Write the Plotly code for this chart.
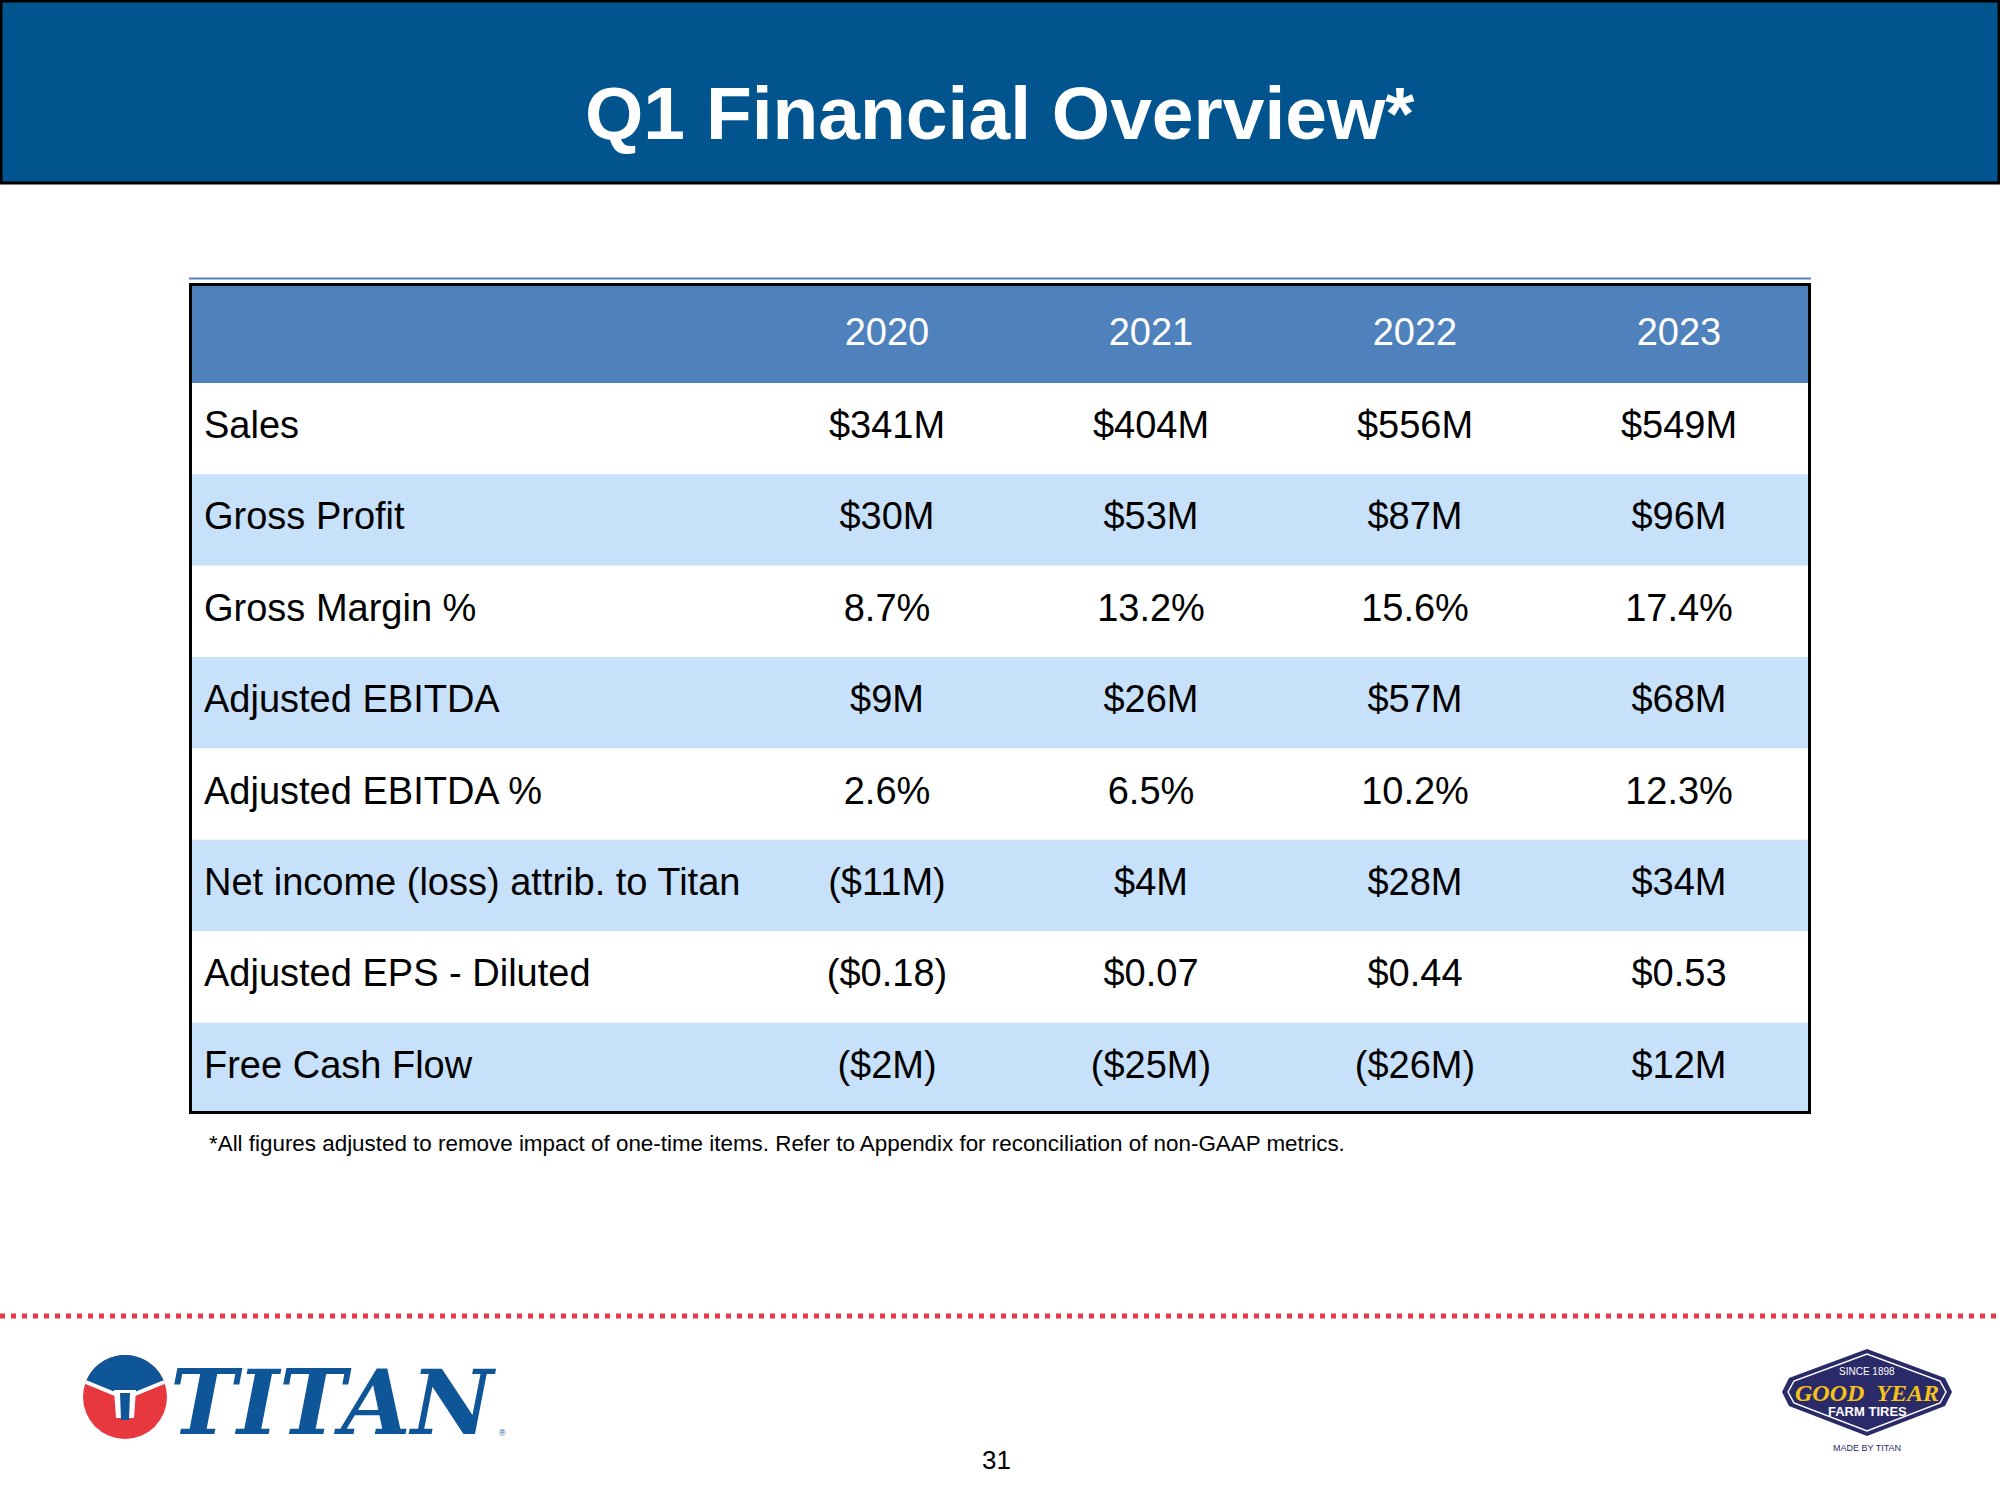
import math
import plotly.graph_objects as go

# ---------------- data ----------------
years = ["2020", "2021", "2022", "2023"]
metrics = [
    "Sales",
    "Gross Profit",
    "Gross Margin %",
    "Adjusted EBITDA",
    "Adjusted EBITDA %",
    "Net income (loss) attrib. to Titan",
    "Adjusted EPS - Diluted",
    "Free Cash Flow",
]
v2020 = ["$341M", "$30M", "8.7%", "$9M", "2.6%", "($11M)", "($0.18)", "($2M)"]
v2021 = ["$404M", "$53M", "13.2%", "$26M", "6.5%", "$4M", "$0.07", "($25M)"]
v2022 = ["$556M", "$87M", "15.6%", "$57M", "10.2%", "$28M", "$0.44", "($26M)"]
v2023 = ["$549M", "$96M", "17.4%", "$68M", "12.3%", "$34M", "$0.53", "$12M"]
values_by_year = [v2020, v2021, v2022, v2023]

title_text = "Q1 Financial Overview*"
footnote_text = ("*All figures adjusted to remove impact of one-time items. "
                 "Refer to Appendix for reconciliation of non-GAAP metrics.")
page_number = "31"

# ---------------- style ----------------
W, H = 2000, 1500
FONT = "Liberation Sans, Arial, Helvetica, sans-serif"
BANNER = "#02548E"
HEAD = "#4F81BD"
LIGHT = "#C8E1FA"
RED = "#E8394A"
TITAN_BLUE = "#0E5697"
TITAN_RED = "#E8383F"
GY_NAVY = "#2B2A68"
GY_YELLOW = "#F5C21C"

# table geometry (page pixels)
T_LEFT, T_RIGHT = 189, 1811
T_TOP, T_BOTTOM = 283, 1114
LABEL_W, COL_W = 566, 264
HEADER_H, ROW_H = 100, 91.5

label_units = LABEL_W / COL_W
header_units = HEADER_H / ROW_H
x_min = -0.5 - label_units
x_max = len(years) - 0.5
y_top = -0.5 - header_units
y_bot = len(metrics) - 0.5
header_y = -0.5 - header_units / 2

fig = go.Figure()

# row bands (header + alternating rows)
band_y = [header_y] + list(range(len(metrics)))
band_w = [header_units] + [1.0] * len(metrics)
band_c = [HEAD] + [("white" if i % 2 == 0 else LIGHT) for i in range(len(metrics))]
fig.add_trace(go.Bar(
    orientation="h", y=band_y, x=[x_max - x_min] * len(band_y), base=x_min,
    width=band_w, marker=dict(color=band_c, line=dict(width=0)),
    hoverinfo="skip", showlegend=False, xaxis="x", yaxis="y",
))

# header text
fig.add_trace(go.Scatter(
    x=list(range(len(years))), y=[header_y + 3 / ROW_H] * len(years), text=years,
    mode="text", textposition="middle center",
    textfont=dict(family=FONT, size=38, color="white"),
    hoverinfo="skip", showlegend=False, xaxis="x", yaxis="y",
))

# row labels
fig.add_trace(go.Scatter(
    x=[x_min + 15 / COL_W] * len(metrics), y=list(range(len(metrics))), text=metrics,
    mode="text", textposition="middle right",
    textfont=dict(family=FONT, size=38, color="black"),
    hoverinfo="skip", showlegend=False, xaxis="x", yaxis="y",
))

# values
for j, vals in enumerate(values_by_year):
    fig.add_trace(go.Scatter(
        x=[j] * len(vals), y=list(range(len(vals))), text=vals,
        mode="text", textposition="middle center",
        textfont=dict(family=FONT, size=38, color="black"),
        hoverinfo="skip", showlegend=False, xaxis="x", yaxis="y",
    ))

shapes = []
# table border
shapes.append(dict(type="line", xref="x2", yref="y2", x0=T_LEFT, x1=T_RIGHT, y0=278.5, y1=278.5,
                   line=dict(color=HEAD, width=2), layer="above"))
shapes.append(dict(type="rect", xref="x", yref="y", x0=x_min, x1=x_max, y0=y_top, y1=y_bot,
                   line=dict(color="black", width=6), layer="above"))

# banner
shapes.append(dict(type="rect", xref="x2", yref="y2", x0=1, x1=W - 1, y0=1, y1=183,
                   fillcolor=BANNER, line=dict(color="black", width=3), layer="below"))

# dotted separator
shapes.append(dict(type="line", xref="x2", yref="y2", x0=0, x1=W, y0=1316, y1=1316,
                   line=dict(color=RED, width=5, dash="5px,6px"), layer="above"))

# ---- Titan logo ----
cx, cy, rx, ry = 125, 1397, 42, 42
shapes.append(dict(type="circle", xref="x2", yref="y2", x0=cx - rx, x1=cx + rx,
                   y0=cy - ry, y1=cy + ry, fillcolor=TITAN_RED, line=dict(width=0), layer="above"))
t0 = math.atan2(-0.357, -0.934)
t1 = math.atan2(-0.357, 0.934)
pts = []
n = 40
for k in range(n + 1):
    t = t0 + (t1 - t0) * k / n
    pts.append((cx + rx * math.cos(t), cy + ry * math.sin(t)))
vb = (cx, 1398)
path = "M " + " L ".join(f"{px:.2f},{py:.2f}" for px, py in pts) + f" L {vb[0]},{vb[1]} Z"
shapes.append(dict(type="path", xref="x2", yref="y2", path=path, fillcolor=TITAN_BLUE,
                   line=dict(width=0), layer="above"))
shapes.append(dict(type="path", xref="x2", yref="y2",
                   path=f"M {pts[0][0]:.2f},{pts[0][1]:.2f} L {vb[0]},{vb[1]} L {pts[-1][0]:.2f},{pts[-1][1]:.2f}",
                   line=dict(color="white", width=4), layer="above"))
shapes.append(dict(type="path", xref="x2", yref="y2",
                   path=f"M {cx-11},1390 L {cx+11},1390 L {cx+9},1418 L {cx-9},1418 Z",
                   fillcolor="white", line=dict(width=0), layer="above"))
shapes.append(dict(type="path", xref="x2", yref="y2",
                   path=f"M {cx-5},1393 L {cx+5},1393 L {cx+4},1420 L {cx-4},1420 Z",
                   fillcolor=TITAN_BLUE, line=dict(width=0), layer="above"))

# ---- Goodyear logo ----
outer = [(1782, 1392), (1789, 1378), (1867, 1349), (1945, 1378), (1952, 1392),
         (1945, 1406), (1867, 1436), (1789, 1406)]
inner = [(1788, 1392), (1794, 1381), (1867, 1354), (1940, 1381), (1946, 1392),
         (1940, 1403), (1867, 1431), (1794, 1403)]
def poly(p):
    return "M " + " L ".join(f"{a},{b}" for a, b in p) + " Z"
shapes.append(dict(type="path", xref="x2", yref="y2", path=poly(outer), fillcolor=GY_NAVY,
                   line=dict(width=0), layer="above"))
shapes.append(dict(type="path", xref="x2", yref="y2", path=poly(inner), fillcolor=GY_NAVY,
                   line=dict(color="white", width=1.5), layer="above"))

annotations = [
    dict(text=f"<b>{title_text}</b>", x=1000, y=113, xref="x2", yref="y2",
         xanchor="center", yanchor="middle", showarrow=False,
         font=dict(family=FONT, size=75, color="white")),
    dict(text=footnote_text, x=207, y=1143, xref="x2", yref="y2",
         xanchor="left", yanchor="middle", showarrow=False,
         font=dict(family=FONT, size=22.4, color="black")),
    dict(text=page_number, x=996, y=1460, xref="x2", yref="y2",
         xanchor="center", yanchor="middle", showarrow=False,
         font=dict(family=FONT, size=26, color="black")),
    dict(text="<b><i>TITAN</i></b>", x=168, y=1402, xref="x2", yref="y2",
         xanchor="left", yanchor="middle", showarrow=False,
         font=dict(family="DejaVu Serif, Liberation Serif, serif", size=90, color=TITAN_BLUE)),
    dict(text="®", x=502, y=1433, xref="x2", yref="y2",
         xanchor="center", yanchor="middle", showarrow=False,
         font=dict(family=FONT, size=9, color=TITAN_BLUE)),
    dict(text="SINCE 1898", x=1867, y=1371, xref="x2", yref="y2",
         xanchor="center", yanchor="middle", showarrow=False,
         font=dict(family=FONT, size=10, color="white")),
    dict(text="<b><i>GOOD</i></b>  <b><i>YEAR</i></b>", x=1867, y=1393, xref="x2", yref="y2",
         xanchor="center", yanchor="middle", showarrow=False,
         font=dict(family="Liberation Serif, Times New Roman, serif", size=24, color=GY_YELLOW)),
    dict(text="<b>FARM TIRES</b>", x=1867, y=1411, xref="x2", yref="y2",
         xanchor="center", yanchor="middle", showarrow=False,
         font=dict(family=FONT, size=13, color="white")),
    dict(text="MADE BY TITAN", x=1867, y=1448, xref="x2", yref="y2",
         xanchor="center", yanchor="middle", showarrow=False,
         font=dict(family=FONT, size=9, color=GY_NAVY)),
]

fig.update_layout(
    width=W, height=H, margin=dict(l=0, r=0, t=0, b=0),
    paper_bgcolor="white", plot_bgcolor="rgba(0,0,0,0)",
    showlegend=False, barmode="overlay",
    xaxis=dict(domain=[T_LEFT / W, T_RIGHT / W], range=[x_min, x_max],
               visible=False, fixedrange=True, anchor="y"),
    yaxis=dict(domain=[1 - T_BOTTOM / H, 1 - T_TOP / H], range=[y_bot, y_top],
               visible=False, fixedrange=True, anchor="x"),
    xaxis2=dict(domain=[0, 1], range=[0, W], visible=False, fixedrange=True, anchor="y2"),
    yaxis2=dict(domain=[0, 1], range=[H, 0], visible=False, fixedrange=True, anchor="x2"),
    shapes=shapes,
    annotations=annotations,
)
# invisible trace to register the page-pixel axes
fig.add_trace(go.Scatter(x=[0], y=[0], xaxis="x2", yaxis="y2", mode="markers",
                         marker=dict(opacity=0), hoverinfo="skip", showlegend=False))

fig.write_html(
    "out.html",
    config={"displayModeBar": False},
    post_script="document.body.style.margin='0';document.body.style.overflow='hidden';",
)
